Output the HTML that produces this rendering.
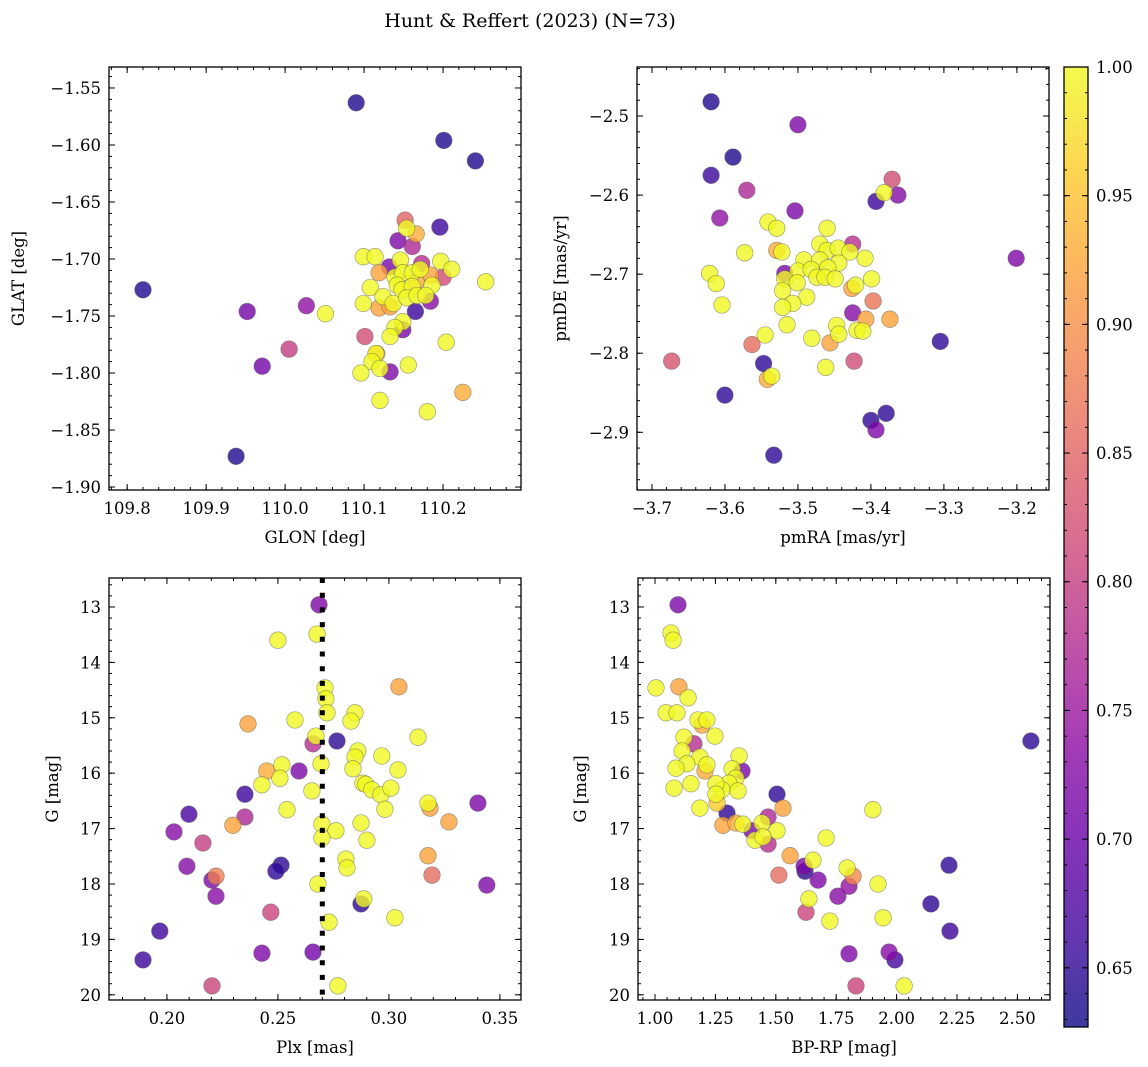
<!DOCTYPE html>
<html><head><meta charset="utf-8">
<style>
html,body{margin:0;padding:0;background:#fff;}
svg{display:block;font-family:"DejaVu Serif","Liberation Serif",serif;}
</style></head>
<body>
<svg id="fig" width="1148" height="1067" viewBox="0 0 1148 1067" xmlns="http://www.w3.org/2000/svg">
<defs>
<linearGradient id="cbgrad" x1="0" y1="1" x2="0" y2="0">
<stop offset="0" stop-color="#0d0887"/><stop offset="0.1" stop-color="#41049d"/><stop offset="0.2" stop-color="#6a00a8"/><stop offset="0.3" stop-color="#8f0da4"/><stop offset="0.4" stop-color="#b12a90"/><stop offset="0.5" stop-color="#cc4778"/><stop offset="0.6" stop-color="#e16462"/><stop offset="0.7" stop-color="#f2844b"/><stop offset="0.8" stop-color="#fca636"/><stop offset="0.9" stop-color="#fcce25"/><stop offset="1" stop-color="#f0f921"/>
</linearGradient>
</defs>
<text x="530" y="27" font-size="19" text-anchor="middle">Hunt &amp; Reffert (2023) (N=73)</text>
</svg>
<script>
// ---- Panel 1: GLON / GLAT ----
const p1Lon=[109.820,110.090,110.201,110.241,109.952,109.971,110.005,110.027,110.051,110.225,110.196,110.254,110.204,110.152,110.154,110.166,110.143,110.161,110.099,110.114,110.197,110.211,110.132,110.146,110.173,110.119,110.200,110.184,110.108,110.139,110.149,110.161,110.171,110.142,110.148,110.161,110.166,110.186,110.124,110.137,110.154,110.167,110.178,110.184,110.099,110.119,110.133,110.165,110.149,110.139,110.149,110.133,110.101,110.116,110.115,110.110,110.120,110.133,110.156,110.096,110.120,110.180,109.938];
const p1Lat=[-1.727,-1.563,-1.596,-1.614,-1.746,-1.794,-1.779,-1.741,-1.748,-1.817,-1.672,-1.720,-1.773,-1.666,-1.673,-1.678,-1.684,-1.689,-1.698,-1.698,-1.702,-1.709,-1.707,-1.701,-1.704,-1.712,-1.716,-1.714,-1.725,-1.716,-1.712,-1.712,-1.709,-1.723,-1.727,-1.724,-1.720,-1.723,-1.733,-1.739,-1.734,-1.732,-1.732,-1.737,-1.739,-1.743,-1.742,-1.746,-1.755,-1.760,-1.762,-1.768,-1.768,-1.783,-1.783,-1.790,-1.796,-1.799,-1.793,-1.800,-1.824,-1.834,-1.873];
const p1Prob=[.64,.64,.64,.64,.71,.71,.80,.74,1,.93,.66,1,1,.85,1,.93,.72,.77,1,1,1,1,.72,1,.78,.92,.82,.92,1,1,1,1,1,1,1,1,.93,1,1,1,1,1,1,.73,1,.92,.92,.66,1,1,.72,1,.82,.92,1,1,1,.72,1,1,1,1,.64];
const p1XTicks=[109.8,109.9,110.0,110.1,110.2];
const p1YTicks=[-1.55,-1.60,-1.65,-1.70,-1.75,-1.80,-1.85,-1.90];
// ---- Panel 2: pmRA / pmDE ----
const p2PmRA=[-3.619,-3.589,-3.619,-3.500,-3.607,-3.570,-3.673,-3.547,-3.600,-3.533,-3.400,-3.379,-3.393,-3.201,-3.305,-3.393,-3.371,-3.382,-3.363,-3.504,-3.541,-3.529,-3.460,-3.573,-3.529,-3.522,-3.470,-3.425,-3.460,-3.445,-3.429,-3.408,-3.492,-3.470,-3.444,-3.518,-3.500,-3.482,-3.459,-3.474,-3.463,-3.449,-3.518,-3.399,-3.501,-3.521,-3.426,-3.421,-3.488,-3.507,-3.521,-3.397,-3.425,-3.407,-3.374,-3.447,-3.515,-3.444,-3.419,-3.411,-3.545,-3.481,-3.456,-3.563,-3.536,-3.542,-3.462,-3.423,-3.621,-3.612,-3.604];
const p2PmDE=[-2.482,-2.552,-2.575,-2.511,-2.629,-2.594,-2.810,-2.813,-2.853,-2.929,-2.885,-2.876,-2.897,-2.680,-2.785,-2.608,-2.580,-2.597,-2.600,-2.620,-2.634,-2.642,-2.642,-2.673,-2.670,-2.672,-2.662,-2.662,-2.670,-2.667,-2.672,-2.680,-2.682,-2.682,-2.686,-2.699,-2.696,-2.694,-2.692,-2.704,-2.704,-2.706,-2.706,-2.706,-2.711,-2.721,-2.718,-2.714,-2.729,-2.737,-2.742,-2.734,-2.749,-2.757,-2.757,-2.765,-2.764,-2.776,-2.771,-2.772,-2.777,-2.781,-2.787,-2.789,-2.829,-2.833,-2.818,-2.810,-2.699,-2.712,-2.739];
const p2Prob=[.64,.64,.66,.72,.74,.77,.83,.65,.65,.65,.65,.65,.72,.72,.65,.66,.82,1,.73,.72,1,1,1,1,.93,1,1,.78,1,1,1,1,1,1,1,.72,1,1,1,1,1,1,1,1,1,1,.92,1,1,1,1,.87,.73,.92,.92,1,1,1,1,1,1,1,.92,.86,1,.93,1,.82,1,1,1];
const p2XTicks=[-3.7,-3.6,-3.5,-3.4,-3.3,-3.2];
const p2YTicks=[-2.5,-2.6,-2.7,-2.8,-2.9];
// ---- Panel 3: Plx / G ----
const p3Plx=[0.2685,0.2676,0.2500,0.2712,0.2716,0.2721,0.3045,0.2365,0.2577,0.2847,0.2829,0.2671,0.2658,0.2766,0.3131,0.2860,0.2847,0.2968,0.2838,0.3041,0.2518,0.2450,0.2509,0.2595,0.2694,0.2883,0.2896,0.2923,0.2964,0.3009,0.2428,0.2351,0.2653,0.2982,0.3176,0.3185,0.2541,0.2351,0.2297,0.2874,0.2698,0.2761,0.2698,0.2901,0.2514,0.2491,0.2806,0.2811,0.3176,0.3270,0.3401,0.2099,0.2032,0.2162,0.2090,0.2203,0.2221,0.2221,0.3194,0.3441,0.2680,0.2887,0.2874,0.2468,0.2730,0.3027,0.1968,0.1892,0.2428,0.2658,0.2203,0.2770];
const p3G=[12.96,13.49,13.60,14.46,14.66,14.91,14.44,15.11,15.04,14.91,15.06,15.33,15.47,15.42,15.35,15.60,15.71,15.69,15.92,15.94,15.85,15.96,16.09,15.96,15.83,16.18,16.20,16.30,16.39,16.27,16.21,16.38,16.32,16.65,16.54,16.63,16.66,16.79,16.94,16.90,16.92,17.04,17.17,17.21,17.66,17.77,17.55,17.71,17.49,16.88,16.54,16.74,17.06,17.26,17.68,17.93,17.86,18.22,17.84,18.02,18.00,18.27,18.36,18.51,18.69,18.61,18.85,19.37,19.25,19.23,19.84,19.84];
const p3Prob=[.72,1,1,1,1,1,.92,.92,1,1,1,1,.78,.65,1,1,1,1,1,1,1,.93,1,.72,1,1,1,1,1,1,1,.66,1,1,1,.92,1,.77,.92,1,1,1,1,1,.65,.65,1,1,.92,.92,.72,.67,.73,.80,.73,.72,.88,.73,.86,.72,1,1,.65,.81,1,1,.66,.66,.72,.71,.81,1];
const p3XTicks=[0.20,0.25,0.30,0.35];
const p3YTicks=[13,14,15,16,17,18,19,20];
const p3VLine=0.27;
// ---- Panel 4: BP-RP / G ----
const p4Color=[1.095,1.066,1.075,1.004,1.099,1.137,1.046,1.091,1.178,1.215,1.195,1.248,1.120,1.161,1.112,1.186,1.215,1.207,1.132,1.087,1.348,1.319,1.360,1.335,1.306,1.277,1.344,1.252,1.252,1.257,1.079,1.149,1.186,1.505,1.530,1.298,1.281,1.335,1.364,1.443,1.468,1.401,1.505,1.414,1.447,1.468,1.708,1.902,1.559,1.617,1.621,1.654,1.513,1.675,1.795,1.820,1.803,1.923,2.217,1.757,1.637,1.625,1.724,1.944,2.142,2.221,1.803,1.969,1.993,1.832,2.031,2.556];
const p4G=[12.96,13.47,13.60,14.46,14.44,14.64,14.91,14.91,15.04,15.04,15.13,15.33,15.35,15.47,15.60,15.71,15.85,15.96,15.83,15.91,15.69,15.92,15.96,16.09,16.18,16.30,16.32,16.19,16.38,16.54,16.27,16.19,16.63,16.38,16.63,16.72,16.94,16.90,16.92,16.90,16.79,17.04,17.04,17.21,17.15,17.28,17.17,16.66,17.49,17.68,17.77,17.57,17.84,17.93,17.71,17.86,18.04,18.00,17.66,18.22,18.27,18.51,18.67,18.61,18.36,18.85,19.26,19.23,19.37,19.84,19.84,15.42];
const p4Prob=[.72,1,1,1,.92,1,1,1,1,1,.93,1,1,.78,1,1,1,.93,1,1,1,1,.72,1,1,1,1,1,1,.96,1,1,1,.65,.92,.65,.92,.93,1,1,.77,.72,1,1,1,.78,1,1,.92,.72,.65,1,.86,.72,1,.89,.74,1,.65,.73,1,.81,1,1,.65,.66,.72,.73,.67,.81,1,.65];
const p4XTicks=[1.00,1.25,1.50,1.75,2.00,2.25,2.50];
const p4YTicks=[13,14,15,16,17,18,19,20];
// ---- Colorbar ----
const cbTicks=[0.65,0.70,0.75,0.80,0.85,0.90,0.95,1.00];
const cbMin=0.627, cbMax=1.0;

const NS="http://www.w3.org/2000/svg";
const svg=document.getElementById('fig');
function mk(tag,attrs,parent){const e=document.createElementNS(NS,tag);for(const k in attrs)e.setAttribute(k,attrs[k]);(parent||svg).appendChild(e);return e;}
const stops=[[13,8,135],[65,4,157],[106,0,168],[143,13,164],[177,42,144],[204,71,120],[225,100,98],[242,132,75],[252,166,54],[252,206,37],[240,249,33]];
function plasma(t){t=Math.max(0,Math.min(1,t));const f=t*10,i=Math.min(9,Math.floor(f)),r=f-i;const a=stops[i],b=stops[i+1];return 'rgb('+a.map((v,k)=>Math.round(v+(b[k]-v)*r)).join(',')+')';}
function fmtNum(v,d){const s=Math.abs(v).toFixed(d);return (v<0?'\u2212':'')+s;}

function panel(cfg){
  const g=mk('g',{});
  
  
  const L=cfg.box[0],T=cfg.box[1],R=cfg.box[2],B=cfg.box[3];
  const sx=v=>L+(v-cfg.xr[0])/(cfg.xr[1]-cfg.xr[0])*(R-L);
  const sy=cfg.yInv?(v=>T+(v-cfg.yr[0])/(cfg.yr[1]-cfg.yr[0])*(B-T)):(v=>B-(v-cfg.yr[0])/(cfg.yr[1]-cfg.yr[0])*(B-T));
  // points
  const idx=cfg.xs.map((_,i)=>i).sort((a,b)=>cfg.ps[a]-cfg.ps[b]);
  const pg=mk('g',{},g);
  
  
  idx.forEach(i=>{
    const c=mk('circle',{cx:sx(cfg.xs[i]).toFixed(1),cy:sy(cfg.ys[i]).toFixed(1),r:8.3,fill:plasma((cfg.ps[i]-cbMin)/(cbMax-cbMin)),'fill-opacity':0.8,stroke:'#555','stroke-opacity':0.55,'stroke-width':0.7},pg);
    
    
  });
  if(cfg.vline!==undefined){
    const vl=mk('line',{x1:sx(cfg.vline),x2:sx(cfg.vline),y1:T,y2:B,stroke:'#000','stroke-width':5,'stroke-dasharray':'5 9.7'},g);
    
    
  }
  // frame
  const fr=mk('rect',{x:L,y:T,width:R-L,height:B-T,fill:'none',stroke:'#000','stroke-width':1.3},g);
  
  
  // minor ticks
  const tg=mk('g',{stroke:'#000','stroke-width':1},g);
  const x0=Math.ceil(cfg.xr[0]/cfg.xmin-1e-9),x1=Math.floor(cfg.xr[1]/cfg.xmin+1e-9);
  for(let k=x0;k<=x1;k++){const x=sx(k*cfg.xmin);mk('line',{x1:x,x2:x,y1:B,y2:B-3},tg);mk('line',{x1:x,x2:x,y1:T,y2:T+3},tg);}
  const lo=Math.min(cfg.yr[0],cfg.yr[1]),hi=Math.max(cfg.yr[0],cfg.yr[1]);
  const y0=Math.ceil(lo/cfg.ymin-1e-9),y1=Math.floor(hi/cfg.ymin+1e-9);
  for(let k=y0;k<=y1;k++){const y=sy(k*cfg.ymin);mk('line',{x1:L,x2:L+3,y1:y,y2:y},tg);mk('line',{x1:R,x2:R-3,y1:y,y2:y},tg);}
  // major ticks + labels
  cfg.xt.forEach(v=>{const x=sx(v);mk('line',{x1:x,x2:x,y1:B,y2:B-6},tg);mk('line',{x1:x,x2:x,y1:T,y2:T+6},tg);
    const t=mk('text',{x:x,y:B+24,'font-size':16.5,'text-anchor':'middle'},g);t.textContent=fmtNum(v,cfg.xd);
    
    });
  cfg.yt.forEach(v=>{const y=sy(v);mk('line',{x1:L,x2:L+6,y1:y,y2:y},tg);mk('line',{x1:R,x2:R-6,y1:y,y2:y},tg);
    const t=mk('text',{x:L-8,y:y+6,'font-size':16.5,'text-anchor':'end'},g);t.textContent=fmtNum(v,cfg.yd);
    
    });
  const xl=mk('text',{x:(L+R)/2,y:B+53,'font-size':16.5,'text-anchor':'middle'},g);xl.textContent=cfg.xlabel;
  
  
  const yl=mk('text',{x:0,y:0,'font-size':16.5,'text-anchor':'middle',transform:'translate('+cfg.ylx+','+((T+B)/2)+') rotate(-90)'},g);yl.textContent=cfg.ylabel;
  
  
}

panel({name:'glon-glat-panel',box:[109,67,521,490],xr:[109.777,110.2987],yr:[-1.9026,-1.5316],xs:p1Lon,ys:p1Lat,ps:p1Prob,xt:p1XTicks,yt:p1YTicks,xd:1,yd:2,xmin:0.02,ymin:0.01,xlabel:'GLON [deg]',ylabel:'GLAT [deg]',ylx:24});
panel({name:'proper-motion-panel',box:[637,67,1049,490],xr:[-3.7205,-3.156],yr:[-2.973,-2.438],xs:p2PmRA,ys:p2PmDE,ps:p2Prob,xt:p2XTicks,yt:p2YTicks,xd:1,yd:1,xmin:0.02,ymin:0.02,xlabel:'pmRA [mas/yr]',ylabel:'pmDE [mas/yr]',ylx:566});
panel({name:'parallax-magnitude-panel',box:[109,578,521,1000],xr:[0.1739,0.3595],yr:[12.477,20.094],yInv:true,xs:p3Plx,ys:p3G,ps:p3Prob,xt:p3XTicks,yt:p3YTicks,xd:2,yd:0,xmin:0.01,ymin:0.2,xlabel:'Plx [mas]',ylabel:'G [mag]',ylx:58,vline:p3VLine});
panel({name:'color-magnitude-panel',box:[638,578,1050,1000],xr:[0.9296,2.635],yr:[12.477,20.094],yInv:true,xs:p4Color,ys:p4G,ps:p4Prob,xt:p4XTicks,yt:p4YTicks,xd:2,yd:0,xmin:0.05,ymin:0.2,xlabel:'BP-RP [mag]',ylabel:'G [mag]',ylx:586});

// colorbar
(function(){
  const g=mk('g',{});
  
  
  const L=1064,R=1088,T=67,B=1027;
  mk('rect',{x:L,y:T,width:R-L,height:B-T,fill:'url(#cbgrad)','fill-opacity':0.8},g);
  mk('rect',{x:L,y:T,width:R-L,height:B-T,fill:'none',stroke:'#000','stroke-width':1.3},g);
  const sy=v=>B-(v-cbMin)/(cbMax-cbMin)*(B-T);
  for(let k=Math.ceil(cbMin/0.01);k<=100;k++){const y=sy(k*0.01);mk('line',{x1:R,x2:R-3,y1:y,y2:y,stroke:'#000'},g);mk('line',{x1:L,x2:L+3,y1:y,y2:y,stroke:'#000'},g);}
  cbTicks.forEach(v=>{const y=sy(v);mk('line',{x1:R,x2:R-6,y1:y,y2:y,stroke:'#000'},g);mk('line',{x1:L,x2:L+6,y1:y,y2:y,stroke:'#000'},g);
    const t=mk('text',{x:R+8,y:y+6,'font-size':16.5},g);t.textContent=v.toFixed(2);
    
    });
})();
</script>
</body></html>
